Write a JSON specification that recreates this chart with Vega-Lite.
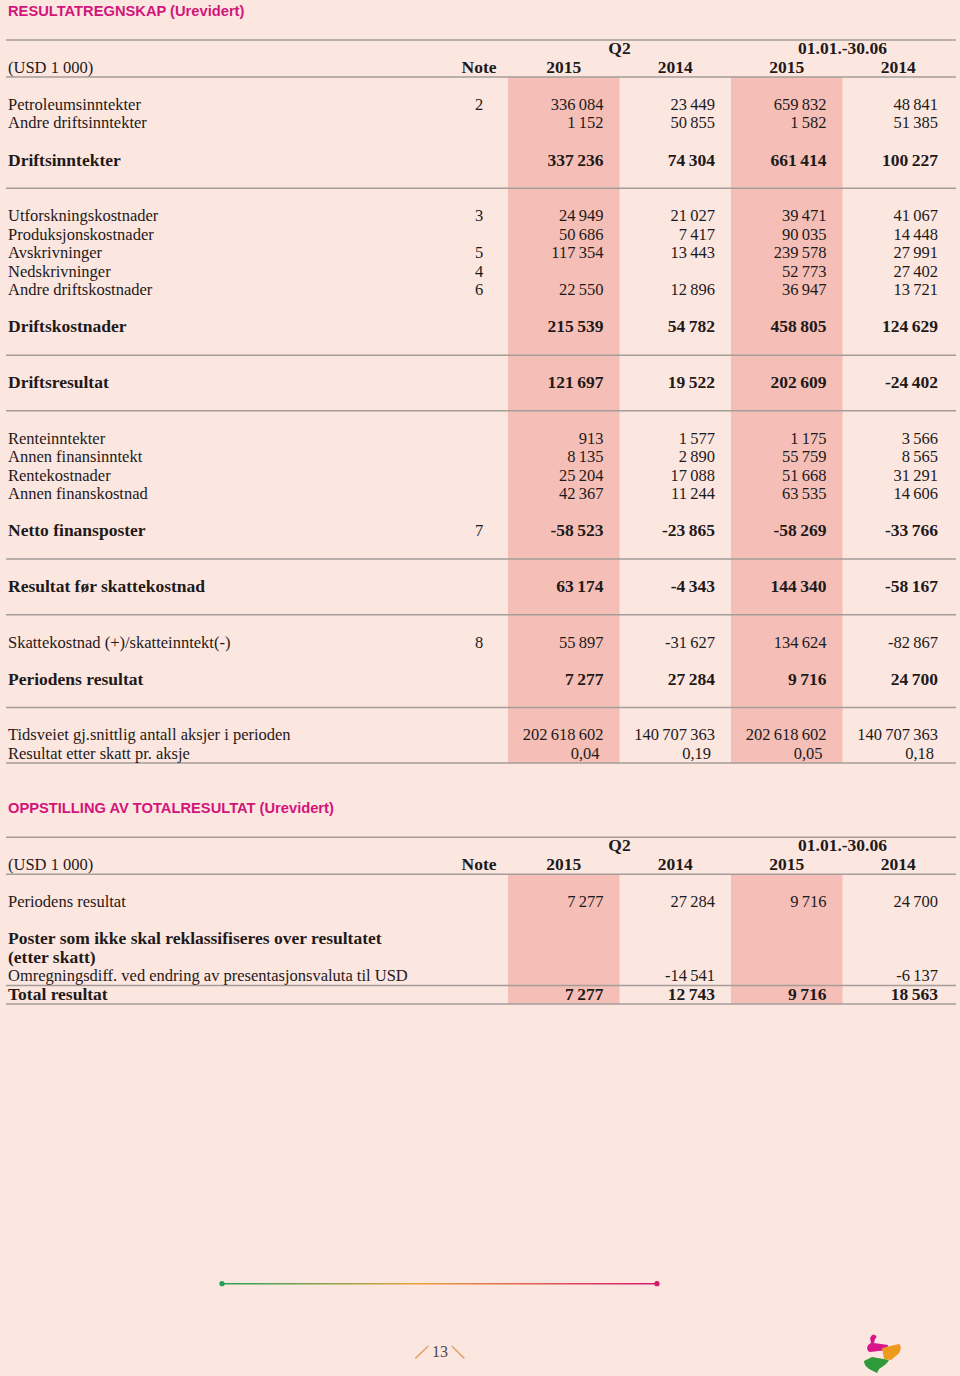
{
  "$schema": "https://vega.github.io/schema/vega-lite/v6.json",
  "autosize": {"type": "fit", "contains": "padding"},
  "width": 960,
  "height": 1376,
  "padding": {"left": 5, "right": 3, "top": 0, "bottom": 0},
  "background": "#FCE6E0",
  "config": {
    "view": {"stroke": null},
    "locale": {"number": {"decimal": ",", "thousands": "\u2009", "grouping": [3], "currency": ["", ""], "minus": "-"}},
    "text": {"font": "Liberation Serif", "fontSize": 16.5, "color": "#1E1A1A", "baseline": "middle"}
  },
  "datasets": {
    "rows": [
      {"line": 4, "label": "Petroleumsinntekter", "kind": "item", "note": "2", "q2_2015": 336084, "q2_2014": 23449, "h1_2015": 659832, "h1_2014": 48841},
      {"line": 5, "label": "Andre driftsinntekter", "kind": "item", "q2_2015": 1152, "q2_2014": 50855, "h1_2015": 1582, "h1_2014": 51385},
      {"line": 7, "label": "Driftsinntekter", "kind": "total", "q2_2015": 337236, "q2_2014": 74304, "h1_2015": 661414, "h1_2014": 100227},
      {"line": 10, "label": "Utforskningskostnader", "kind": "item", "note": "3", "q2_2015": 24949, "q2_2014": 21027, "h1_2015": 39471, "h1_2014": 41067},
      {"line": 11, "label": "Produksjonskostnader", "kind": "item", "q2_2015": 50686, "q2_2014": 7417, "h1_2015": 90035, "h1_2014": 14448},
      {"line": 12, "label": "Avskrivninger", "kind": "item", "note": "5", "q2_2015": 117354, "q2_2014": 13443, "h1_2015": 239578, "h1_2014": 27991},
      {"line": 13, "label": "Nedskrivninger", "kind": "item", "note": "4", "h1_2015": 52773, "h1_2014": 27402},
      {"line": 14, "label": "Andre driftskostnader", "kind": "item", "note": "6", "q2_2015": 22550, "q2_2014": 12896, "h1_2015": 36947, "h1_2014": 13721},
      {"line": 16, "label": "Driftskostnader", "kind": "total", "q2_2015": 215539, "q2_2014": 54782, "h1_2015": 458805, "h1_2014": 124629},
      {"line": 19, "label": "Driftsresultat", "kind": "total", "q2_2015": 121697, "q2_2014": 19522, "h1_2015": 202609, "h1_2014": -24402},
      {"line": 22, "label": "Renteinntekter", "kind": "item", "q2_2015": 913, "q2_2014": 1577, "h1_2015": 1175, "h1_2014": 3566},
      {"line": 23, "label": "Annen finansinntekt", "kind": "item", "q2_2015": 8135, "q2_2014": 2890, "h1_2015": 55759, "h1_2014": 8565},
      {"line": 24, "label": "Rentekostnader", "kind": "item", "q2_2015": 25204, "q2_2014": 17088, "h1_2015": 51668, "h1_2014": 31291},
      {"line": 25, "label": "Annen finanskostnad", "kind": "item", "q2_2015": 42367, "q2_2014": 11244, "h1_2015": 63535, "h1_2014": 14606},
      {"line": 27, "label": "Netto finansposter", "kind": "total", "note": "7", "q2_2015": -58523, "q2_2014": -23865, "h1_2015": -58269, "h1_2014": -33766},
      {"line": 30, "label": "Resultat før skattekostnad", "kind": "total", "q2_2015": 63174, "q2_2014": -4343, "h1_2015": 144340, "h1_2014": -58167},
      {"line": 33, "label": "Skattekostnad (+)/skatteinntekt(-)", "kind": "item", "note": "8", "q2_2015": 55897, "q2_2014": -31627, "h1_2015": 134624, "h1_2014": -82867},
      {"line": 35, "label": "Periodens resultat", "kind": "total", "q2_2015": 7277, "q2_2014": 27284, "h1_2015": 9716, "h1_2014": 24700},
      {"line": 38, "label": "Tidsveiet gj.snittlig antall aksjer i perioden", "kind": "item", "q2_2015": 202618602, "q2_2014": 140707363, "h1_2015": 202618602, "h1_2014": 140707363},
      {"line": 39, "label": "Resultat etter skatt pr. aksje", "kind": "per share", "q2_2015": 0.04, "q2_2014": 0.19, "h1_2015": 0.05, "h1_2014": 0.18},
      {"line": 47, "label": "Periodens resultat", "kind": "item", "q2_2015": 7277, "q2_2014": 27284, "h1_2015": 9716, "h1_2014": 24700},
      {"line": 49, "label": "Poster som ikke skal reklassifiseres over resultatet", "kind": "heading"},
      {"line": 50, "label": "(etter skatt)", "kind": "heading"},
      {"line": 51, "label": "Omregningsdiff. ved endring av presentasjonsvaluta til USD", "kind": "item", "q2_2014": -14541, "h1_2014": -6137},
      {"line": 52, "label": "Total resultat", "kind": "total", "q2_2015": 7277, "q2_2014": 12743, "h1_2015": 9716, "h1_2014": 18563}
    ],
    "headers": [
      {"line": 2, "unit": "(USD 1 000)", "note": "Note", "q2_2015": "2015", "q2_2014": "2014", "h1_2015": "2015", "h1_2014": "2014"},
      {"line": 45, "unit": "(USD 1 000)", "note": "Note", "q2_2015": "2015", "q2_2014": "2014", "h1_2015": "2015", "h1_2014": "2014"}
    ],
    "periods": [
      {"line": 1, "first": "q2_2015", "text": "Q2"},
      {"line": 1, "first": "h1_2015", "text": "01.01.-30.06"},
      {"line": 44, "first": "q2_2015", "text": "Q2"},
      {"line": 44, "first": "h1_2015", "text": "01.01.-30.06"}
    ],
    "titles": [
      {"line": -1, "text": "RESULTATREGNSKAP (Urevidert)"},
      {"line": 42, "text": "OPPSTILLING AV TOTALRESULTAT (Urevidert)"}
    ],
    "shading": [
      {"col": "q2_2015", "top": 2.5, "bottom": 39.5},
      {"col": "h1_2015", "top": 2.5, "bottom": 39.5},
      {"col": "q2_2015", "top": 45.5, "bottom": 52.5},
      {"col": "h1_2015", "top": 45.5, "bottom": 52.5}
    ],
    "rules": [
      {"line": 0.5}, {"line": 2.5}, {"line": 8.5}, {"line": 17.5}, {"line": 20.5}, {"line": 28.5},
      {"line": 31.5}, {"line": 36.5}, {"line": 39.5}, {"line": 43.5}, {"line": 45.5}, {"line": 51.5}, {"line": 52.5}
    ],
    "page": [{"text": "13"}]
  },
  "resolve": {"scale": {"x": "independent"}},
  "layer": [
    {
      "data": {"name": "shading"},
      "mark": {"type": "rect", "color": "#F5BFB7"},
      "encoding": {
        "x": {"field": "col", "type": "nominal", "axis": null, "scale": {"type": "band", "domain": ["q2_2015", "q2_2014", "h1_2015", "h1_2014"], "range": [502, 948], "paddingInner": 0, "paddingOuter": 0}},
        "y": {"field": "top", "type": "quantitative", "axis": null, "scale": {"domain": [-1.6575, 72.5604], "reverse": true, "nice": false, "zero": false}},
        "y2": {"field": "bottom"}
      }
    },
    {
      "data": {"name": "rules"},
      "mark": {"type": "rule", "color": "#A59D99", "strokeWidth": 1.5},
      "encoding": {
        "y": {"field": "line", "type": "quantitative", "axis": null, "scale": {"domain": [-1.6575, 72.5604], "reverse": true, "nice": false, "zero": false}}
      }
    },
    {
      "data": {"name": "titles"},
      "mark": {"type": "text", "align": "left", "font": "Liberation Sans", "fontWeight": "bold", "fontSize": 14.7, "color": "#D2157B"},
      "encoding": {
        "x": {"datum": "label", "type": "nominal", "axis": null, "scale": {"type": "point", "domain": ["label", "note"], "range": [2, 473], "padding": 0}},
        "y": {"field": "line", "type": "quantitative", "axis": null},
        "text": {"field": "text"}
      }
    },
    {
      "data": {"name": "periods"},
      "mark": {"type": "text", "align": "center", "fontWeight": "bold", "fontSize": 17.5},
      "encoding": {
        "x": {"field": "first", "type": "nominal", "bandPosition": 1, "axis": null, "scale": {"type": "band", "domain": ["q2_2015", "q2_2014", "h1_2015", "h1_2014"], "range": [502, 948], "paddingInner": 0, "paddingOuter": 0}},
        "y": {"field": "line", "type": "quantitative", "axis": null},
        "text": {"field": "text"}
      }
    },
    {
      "data": {"name": "headers"},
      "transform": [{"fold": ["q2_2015", "q2_2014", "h1_2015", "h1_2014"], "as": ["col", "year"]}],
      "mark": {"type": "text", "align": "center", "fontWeight": "bold", "fontSize": 17.5},
      "encoding": {
        "x": {"field": "col", "type": "nominal", "bandPosition": 0.5, "axis": null, "scale": {"type": "band", "domain": ["q2_2015", "q2_2014", "h1_2015", "h1_2014"], "range": [502, 948], "paddingInner": 0, "paddingOuter": 0}},
        "y": {"field": "line", "type": "quantitative", "axis": null},
        "text": {"field": "year"}
      }
    },
    {
      "data": {"name": "headers"},
      "mark": {"type": "text", "align": "left"},
      "encoding": {
        "x": {"datum": "label", "type": "nominal", "axis": null, "scale": {"type": "point", "domain": ["label", "note"], "range": [2, 473], "padding": 0}},
        "y": {"field": "line", "type": "quantitative", "axis": null},
        "text": {"field": "unit"}
      }
    },
    {
      "data": {"name": "headers"},
      "mark": {"type": "text", "align": "center", "fontWeight": "bold", "fontSize": 17.5},
      "encoding": {
        "x": {"datum": "note", "type": "nominal", "axis": null, "scale": {"type": "point", "domain": ["label", "note"], "range": [2, 473], "padding": 0}},
        "y": {"field": "line", "type": "quantitative", "axis": null},
        "text": {"field": "note"}
      }
    },
    {
      "data": {"name": "rows"},
      "transform": [{"filter": "datum.kind === 'item' || datum.kind === 'per share'"}],
      "mark": {"type": "text", "align": "left"},
      "encoding": {
        "x": {"datum": "label", "type": "nominal", "axis": null, "scale": {"type": "point", "domain": ["label", "note"], "range": [2, 473], "padding": 0}},
        "y": {"field": "line", "type": "quantitative", "axis": null},
        "text": {"field": "label"}
      }
    },
    {
      "data": {"name": "rows"},
      "transform": [{"filter": "datum.kind === 'total' || datum.kind === 'heading'"}],
      "mark": {"type": "text", "align": "left", "fontWeight": "bold", "fontSize": 17.5},
      "encoding": {
        "x": {"datum": "label", "type": "nominal", "axis": null, "scale": {"type": "point", "domain": ["label", "note"], "range": [2, 473], "padding": 0}},
        "y": {"field": "line", "type": "quantitative", "axis": null},
        "text": {"field": "label"}
      }
    },
    {
      "data": {"name": "rows"},
      "transform": [{"filter": "isValid(datum.note)"}],
      "mark": {"type": "text", "align": "center"},
      "encoding": {
        "x": {"datum": "note", "type": "nominal", "axis": null, "scale": {"type": "point", "domain": ["label", "note"], "range": [2, 473], "padding": 0}},
        "y": {"field": "line", "type": "quantitative", "axis": null},
        "text": {"field": "note"}
      }
    },
    {
      "data": {"name": "rows"},
      "transform": [
        {"fold": ["q2_2015", "q2_2014", "h1_2015", "h1_2014"], "as": ["col", "value"]},
        {"filter": "isValid(datum.value) && datum.kind === 'item'"}
      ],
      "mark": {"type": "text", "align": "right", "dx": -16},
      "encoding": {
        "x": {"field": "col", "type": "nominal", "bandPosition": 1, "axis": null, "scale": {"type": "band", "domain": ["q2_2015", "q2_2014", "h1_2015", "h1_2014"], "range": [502, 948], "paddingInner": 0, "paddingOuter": 0}},
        "y": {"field": "line", "type": "quantitative", "axis": null},
        "text": {"field": "value", "type": "quantitative", "format": ",.0f"}
      }
    },
    {
      "data": {"name": "rows"},
      "transform": [
        {"fold": ["q2_2015", "q2_2014", "h1_2015", "h1_2014"], "as": ["col", "value"]},
        {"filter": "isValid(datum.value) && datum.kind === 'total'"}
      ],
      "mark": {"type": "text", "align": "right", "dx": -16, "fontWeight": "bold", "fontSize": 17.5},
      "encoding": {
        "x": {"field": "col", "type": "nominal", "bandPosition": 1, "axis": null, "scale": {"type": "band", "domain": ["q2_2015", "q2_2014", "h1_2015", "h1_2014"], "range": [502, 948], "paddingInner": 0, "paddingOuter": 0}},
        "y": {"field": "line", "type": "quantitative", "axis": null},
        "text": {"field": "value", "type": "quantitative", "format": ",.0f"}
      }
    },
    {
      "data": {"name": "rows"},
      "transform": [
        {"fold": ["q2_2015", "q2_2014", "h1_2015", "h1_2014"], "as": ["col", "value"]},
        {"filter": "isValid(datum.value) && datum.kind === 'per share'"}
      ],
      "mark": {"type": "text", "align": "right", "dx": -20},
      "encoding": {
        "x": {"field": "col", "type": "nominal", "bandPosition": 1, "axis": null, "scale": {"type": "band", "domain": ["q2_2015", "q2_2014", "h1_2015", "h1_2014"], "range": [502, 948], "paddingInner": 0, "paddingOuter": 0}},
        "y": {"field": "line", "type": "quantitative", "axis": null},
        "text": {"field": "value", "type": "quantitative", "format": ",.2f"}
      }
    },
    {
      "data": {"name": "page"},
      "mark": {"type": "rect", "fill": {"gradient": "linear", "x1": 0, "y1": 0, "x2": 1, "y2": 0, "stops": [{"offset": 0, "color": "#22A35A"}, {"offset": 0.45, "color": "#E9A23B"}, {"offset": 1, "color": "#D3186F"}]}},
      "encoding": {
        "x": {"datum": 23.02, "type": "quantitative", "axis": null, "scale": {"type": "linear", "domain": [0, 100], "range": [-5, 955], "nice": false, "zero": false}},
        "x2": {"datum": 68.33},
        "y": {"datum": 67.54, "type": "quantitative", "axis": null},
        "y2": {"datum": 67.62}
      }
    },
    {
      "data": {"name": "page"},
      "mark": {"type": "point", "filled": true, "size": 28, "color": "#22A35A", "opacity": 1},
      "encoding": {
        "x": {"datum": 23.02, "type": "quantitative", "axis": null, "scale": {"type": "linear", "domain": [0, 100], "range": [-5, 955], "nice": false, "zero": false}},
        "y": {"datum": 67.58, "type": "quantitative", "axis": null}
      }
    },
    {
      "data": {"name": "page"},
      "mark": {"type": "point", "filled": true, "size": 28, "color": "#D3186F", "opacity": 1},
      "encoding": {
        "x": {"datum": 68.33, "type": "quantitative", "axis": null, "scale": {"type": "linear", "domain": [0, 100], "range": [-5, 955], "nice": false, "zero": false}},
        "y": {"datum": 67.58, "type": "quantitative", "axis": null}
      }
    },
    {
      "data": {"name": "page"},
      "mark": {"type": "rule", "color": "#E3A468", "strokeWidth": 1.5},
      "encoding": {
        "x": {"datum": 43.16, "type": "quantitative", "axis": null, "scale": {"type": "linear", "domain": [0, 100], "range": [-5, 955], "nice": false, "zero": false}},
        "x2": {"datum": 44.51},
        "y": {"datum": 71.61, "type": "quantitative", "axis": null},
        "y2": {"datum": 70.94}
      }
    },
    {
      "data": {"name": "page"},
      "mark": {"type": "rule", "color": "#E3A468", "strokeWidth": 1.5},
      "encoding": {
        "x": {"datum": 46.95, "type": "quantitative", "axis": null, "scale": {"type": "linear", "domain": [0, 100], "range": [-5, 955], "nice": false, "zero": false}},
        "x2": {"datum": 48.26},
        "y": {"datum": 70.94, "type": "quantitative", "axis": null},
        "y2": {"datum": 71.61}
      }
    },
    {
      "data": {"name": "page"},
      "mark": {"type": "text", "align": "center", "fontSize": 16, "color": "#4A4A4A"},
      "encoding": {
        "x": {"datum": 45.73, "type": "quantitative", "axis": null, "scale": {"type": "linear", "domain": [0, 100], "range": [-5, 955], "nice": false, "zero": false}},
        "y": {"datum": 71.27, "type": "quantitative", "axis": null},
        "text": {"field": "text"}
      }
    },
    {
      "data": {"name": "page"},
      "mark": {"type": "point", "filled": true, "size": 1600, "opacity": 1, "strokeWidth": 0, "color": "#D6168A", "shape": "M-0.45,-0.95 C-0.25,-0.98 -0.15,-0.85 -0.3,-0.75 L-0.35,-0.55 L0.35,-0.45 L0.3,-0.2 L-0.55,-0.1 C-0.75,-0.15 -0.75,-0.45 -0.5,-0.55 L-0.55,-0.8 Z"},
      "encoding": {
        "x": {"datum": 91.67, "type": "quantitative", "axis": null, "scale": {"type": "linear", "domain": [0, 100], "range": [-5, 955], "nice": false, "zero": false}},
        "y": {"datum": 71.37, "type": "quantitative", "axis": null}
      }
    },
    {
      "data": {"name": "page"},
      "mark": {"type": "point", "filled": true, "size": 1600, "opacity": 1, "strokeWidth": 0, "color": "#EE9A1E", "shape": "M0.05,-0.3 L0.9,-0.5 C1.05,-0.4 1.0,-0.1 0.8,0.05 L0.5,0.3 L0.15,0.25 Z"},
      "encoding": {
        "x": {"datum": 91.67, "type": "quantitative", "axis": null, "scale": {"type": "linear", "domain": [0, 100], "range": [-5, 955], "nice": false, "zero": false}},
        "y": {"datum": 71.37, "type": "quantitative", "axis": null}
      }
    },
    {
      "data": {"name": "page"},
      "mark": {"type": "point", "filled": true, "size": 1600, "opacity": 1, "strokeWidth": 0, "color": "#2F9A3A", "shape": "M-0.85,0.35 L-0.45,0.15 L0.4,0.3 C0.3,0.5 0.1,0.6 -0.1,0.75 L-0.2,0.95 L-0.5,0.8 C-0.7,0.7 -0.85,0.55 -0.85,0.35 Z"},
      "encoding": {
        "x": {"datum": 91.67, "type": "quantitative", "axis": null, "scale": {"type": "linear", "domain": [0, 100], "range": [-5, 955], "nice": false, "zero": false}},
        "y": {"datum": 71.37, "type": "quantitative", "axis": null}
      }
    }
  ]
}
